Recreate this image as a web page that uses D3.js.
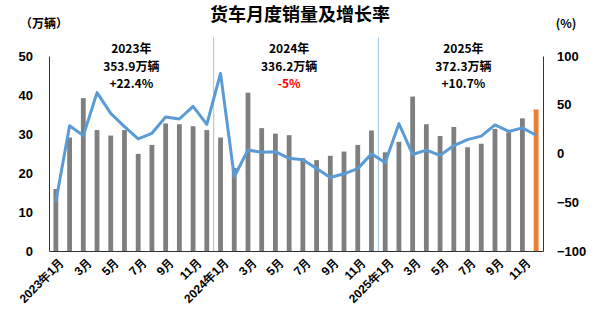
<!DOCTYPE html>
<html>
<head>
<meta charset="utf-8">
<script src="https://cdn.jsdelivr.net/npm/d3@7"></script>
<style>
  body { margin: 0; background: #fff; }
  svg { font-family: "Noto Sans CJK SC", "Noto Sans", sans-serif; }
  .axis text { font-weight: bold; fill: #000; }
  .axis path { stroke: #333; }
</style>
</head>
<body>
<div id="chart"></div>
<script>
// months 2023-01 .. 2025-12
const months = [];
for (let y = 2023; y <= 2025; y++) {
  for (let m = 1; m <= 12; m++) months.push(y + "-" + m);
}
const monthLabels = [
  "2023年1月", "", "3月", "", "5月", "", "7月", "", "9月", "", "11月", "",
  "2024年1月", "", "3月", "", "5月", "", "7月", "", "9月", "", "11月", "",
  "2025年1月", "", "3月", "", "5月", "", "7月", "", "9月", "", "11月", ""
];
// sales (万辆)
const sales = [
  15.9, 29.1, 39.2, 31.0, 29.6, 31.0, 24.9, 27.2, 32.7, 32.5, 32.0, 31.0,
  29.1, 21.3, 40.6, 31.5, 30.1, 29.7, 23.8, 23.3, 24.4, 25.5, 27.2, 30.9,
  25.3, 28.0, 39.6, 32.5, 29.5, 31.8, 26.6, 27.5, 31.3, 30.4, 34.0, 36.3
];
// year-on-year growth (%)
const growth = [
  -49.4, 28.5, 18.3, 62.4, 41.2, 27.5, 14.9, 20.7, 37.4, 35.4, 48.4, 29.9,
  82.2, -23.8, 3.6, 1.2, 1.9, -4.9, -6.3, -15.5, -24.6, -20.8, -15.5, -0.4,
  -9.2, 30.6, -1.0, 3.4, -1.9, 8.2, 14.2, 17.8, 29.3, 22.6, 26.3, 18.7
];
const leftTicks = [0, 10, 20, 30, 40, 50];
const rightTicks = [-100, -50, 0, 50, 100];
const yearNotes = [
  { at: 5.5, lines: ["2023年", "353.9万辆", "+22.4%"], red: false },
  { at: 17, lines: ["2024年", "336.2万辆", "-5%"], red: true },
  { at: 29.7, lines: ["2025年", "372.3万辆", "+10.7%"], red: false }
];

const width = 600, height = 310;
const margin = { top: 56, right: 57, bottom: 59, left: 49 };

const svg = d3.select("#chart").append("svg")
  .attr("width", width)
  .attr("height", height);

const x = d3.scaleBand()
  .domain(months)
  .range([margin.left, width - margin.right])
  .paddingInner(0.65)
  .paddingOuter(0.325);

const yLeft = d3.scaleLinear()
  .domain([0, 50])
  .range([height - margin.bottom, margin.top]);

const yRight = d3.scaleLinear()
  .domain([-100, 100])
  .range([height - margin.bottom, margin.top]);

// title
svg.append("text")
  .attr("x", 300)
  .attr("y", 21)
  .attr("text-anchor", "middle")
  .style("font-size", "18px")
  .style("font-weight", "bold")
  .text("货车月度销量及增长率");

svg.append("text")
  .attr("x", 44)
  .attr("y", 28)
  .attr("text-anchor", "middle")
  .style("font-size", "12px")
  .style("font-weight", "bold")
  .text("（万辆）");

svg.append("text")
  .attr("x", 566)
  .attr("y", 28)
  .attr("text-anchor", "middle")
  .style("font-size", "12px")
  .style("font-weight", "bold")
  .text("(%)");

// year divider lines
[12, 24].forEach(function(i) {
  const xd = (x(months[i - 1]) + x.bandwidth() + x(months[i])) / 2;
  svg.append("line")
    .attr("x1", xd).attr("x2", xd)
    .attr("y1", 37).attr("y2", height - margin.bottom)
    .attr("stroke", "#9dc3e6")
    .attr("stroke-width", 1);
});

// bars
svg.append("g")
  .selectAll("rect")
  .data(sales)
  .enter()
  .append("rect")
  .attr("x", function(d, i) { return x(months[i]); })
  .attr("y", function(d) { return yLeft(d); })
  .attr("width", x.bandwidth())
  .attr("height", function(d) { return yLeft(0) - yLeft(d); })
  .attr("fill", function(d, i) { return i === sales.length - 1 ? "#ed7d31" : "#7f7f7f"; });

// growth line
const line = d3.line()
  .x(function(d, i) { return x(months[i]) + x.bandwidth() / 2; })
  .y(function(d) { return yRight(d); });

svg.append("path")
  .datum(growth)
  .attr("fill", "none")
  .attr("stroke", "#5b9bd5")
  .attr("stroke-width", 3)
  .attr("stroke-linejoin", "round")
  .attr("d", line);

// axes
const leftAxis = svg.append("g")
  .attr("class", "axis")
  .attr("transform", "translate(" + margin.left + ",0)")
  .call(d3.axisLeft(yLeft).tickValues(leftTicks).tickSize(0).tickPadding(16));
leftAxis.selectAll("text").style("font-size", "13px");

const rightAxis = svg.append("g")
  .attr("class", "axis")
  .attr("transform", "translate(" + (width - margin.right) + ",0)")
  .call(d3.axisRight(yRight).tickValues(rightTicks).tickSize(0).tickPadding(14));
rightAxis.selectAll("text").style("font-size", "13px");

const bottomAxis = svg.append("g")
  .attr("class", "axis")
  .attr("transform", "translate(0," + (height - margin.bottom) + ")")
  .call(d3.axisBottom(x)
    .tickSize(0)
    .tickFormat(function(d, i) { return monthLabels[i]; }));
bottomAxis.selectAll("text")
  .style("font-size", "12px")
  .attr("text-anchor", "end")
  .attr("dy", "0.35em")
  .attr("transform", "translate(4,7) rotate(-45)");

// yearly notes, one text block each
yearNotes.forEach(function(n) {
  const i0 = Math.floor(n.at);
  const cx = x(months[i0]) + x.bandwidth() / 2 + (n.at - i0) * x.step();
  const note = svg.append("text")
    .attr("x", cx)
    .attr("y", 53)
    .attr("text-anchor", "middle")
    .style("font-size", "12px")
    .style("font-weight", "bold");
  n.lines.forEach(function(t, k) {
    note.append("tspan")
      .attr("x", cx)
      .attr("dy", k === 0 ? 0 : 17.5)
      .attr("fill", (k === 2 && n.red) ? "#ff0000" : "#000")
      .text(t);
  });
});
</script>
</body>
</html>
